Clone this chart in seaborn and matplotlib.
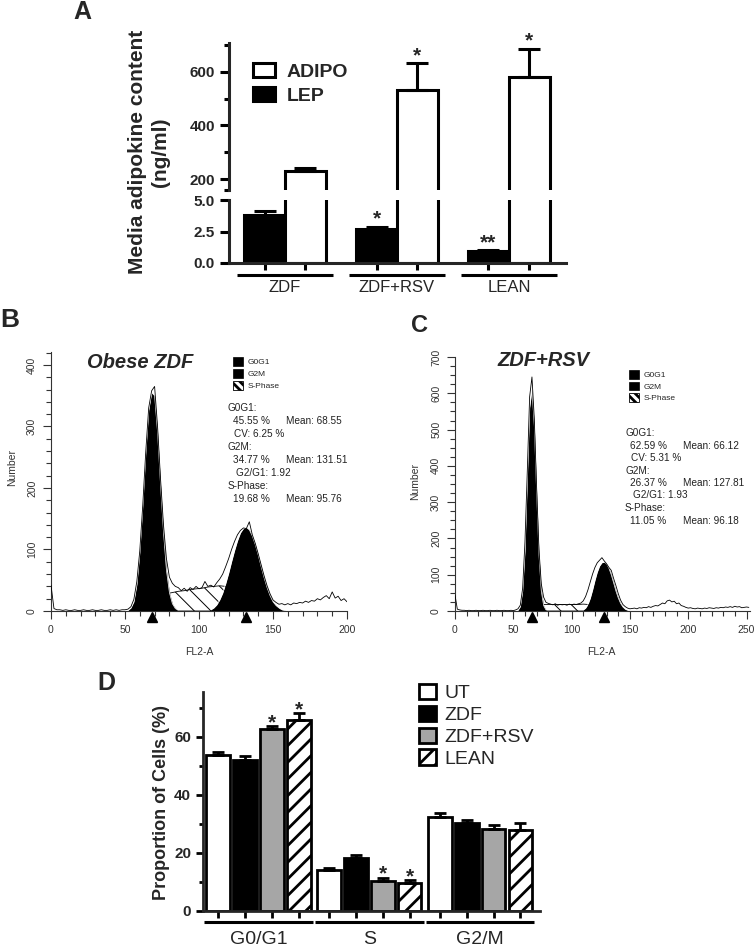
import numpy as np
import pandas as pd
import matplotlib
matplotlib.use('Agg')
import matplotlib.pyplot as plt
from matplotlib.patches import Patch
from matplotlib.ticker import MultipleLocator, FixedLocator, FormatStrFormatter
import seaborn as sns

# ============================================================
# Data
# ============================================================
# --- Panel A: media adipokine content ---
A_GROUPS = ['ZDF', 'ZDF+RSV', 'LEAN']
A_HORMONES = ['LEP', 'ADIPO']
A_LEP = [3.8, 2.67, 0.95]
A_LEP_SEM = [0.3, 0.22, 0.08]
A_ADIPO = [230, 530, 581]
A_ADIPO_SEM = [12, 102, 105]
A_LEP_STARS = ['', '*', '**']
A_ADIPO_STARS = ['', '*', '*']

# --- Panel B: cell cycle histogram, obese ZDF (channels step 2) ---
B_CH = list(range(0, 201, 2))
B_RAW = [42, 4, 2, 2, 1, 2, 1, 1, 2, 1,
         1, 2, 1, 1, 2, 1, 1, 2, 1, 1,
         2, 1, 2, 1, 2, 2, 3, 7, 19, 48,
         98, 172, 258, 330, 358, 365, 300, 215, 140, 85,
         55, 45, 40, 38, 33, 37, 32, 38, 35, 40,
         36, 38, 48, 40, 42, 39, 46, 52, 60, 72,
         85, 100, 113, 124, 131, 135, 134, 145, 124, 110,
         93, 75, 57, 41, 28, 18, 14, 11, 12, 10,
         12, 10, 13, 12, 14, 13, 16, 14, 17, 16,
         20, 18, 22, 25, 20, 31, 21, 24, 17, 20,
         15]
B_G1_CH = list(range(52, 87, 2))
B_G1 = [1, 5, 15, 43, 95, 170, 255, 326, 355, 350, 290, 205, 128, 66, 30, 12, 4, 1]
B_G2_CH = list(range(108, 159, 2))
B_G2 = [2, 5, 10, 18, 29, 44, 61, 80, 98, 114, 127, 134, 136, 132, 122, 108, 91,
        72, 54, 38, 25, 15, 9, 5, 2, 1]
B_S_CH = list(range(70, 139, 4))
B_S = [18, 24, 28, 30, 32, 33, 35, 36, 37, 39, 40, 41, 40, 38, 30, 20, 10, 3]
B_MEANS = [68.55, 131.51]
B_STATS = [('G0G1:', ''), ('45.55 %', 'Mean: 68.55'), ('CV: 6.25 %', ''),
           ('G2M:', ''), ('34.77 %', 'Mean: 131.51'), ('G2/G1: 1.92', ''),
           ('S-Phase:', ''), ('19.68 %', 'Mean: 95.76')]

# --- Panel C: cell cycle histogram, ZDF+RSV ---
C_CH = list(range(0, 253, 2))
C_RAW = [44, 5, 3, 2, 2, 1, 2, 1, 1, 2,
         1, 1, 2, 1, 1, 2, 1, 1, 2, 1,
         1, 2, 1, 1, 2, 1, 3, 6, 16, 62,
         190, 385, 590, 645, 530, 340, 170, 75, 38, 24,
         21, 19, 17, 20, 16, 18, 17, 18, 16, 19,
         17, 19, 18, 20, 22, 28, 40, 58, 80, 102,
         120, 133, 140, 147, 138, 130, 120, 112, 90, 70,
         48, 30, 18, 12, 8, 6, 7, 8, 6, 9,
         8, 10, 9, 12, 10, 13, 15, 14, 18, 22,
         20, 28, 30, 25, 27, 20, 22, 15, 13, 10,
         8, 9, 7, 6, 8, 7, 6, 8, 7, 9,
         8, 7, 9, 8, 10, 9, 11, 10, 12, 10,
         13, 11, 12, 9, 10, 11, 10]
C_G1_CH = list(range(54, 79, 2))
C_G1 = [2, 12, 55, 165, 360, 560, 610, 510, 325, 155, 55, 15, 3]
C_G2_CH = list(range(110, 149, 2))
C_G2 = [3, 8, 18, 35, 58, 84, 107, 124, 133, 135, 130, 118, 100, 78, 55, 36, 21, 11, 5, 2]
C_S_CH = list(range(66, 131, 4))
C_S = [10, 14, 17, 18, 18, 18, 18, 18, 18, 18, 18, 19, 18, 14, 8, 3, 0]
C_MEANS = [66.12, 127.81]
C_STATS = [('G0G1:', ''), ('62.59 %', 'Mean: 66.12'), ('CV: 5.31 %', ''),
           ('G2M:', ''), ('26.37 %', 'Mean: 127.81'), ('G2/G1: 1.93', ''),
           ('S-Phase:', ''), ('11.05 %', 'Mean: 96.18')]

# --- Panel D: proportion of cells per phase ---
D_PHASES = ['G0/G1', 'S', 'G2/M']
D_GROUPS = ['UT', 'ZDF', 'ZDF+RSV', 'LEAN']
D_UT = [53.9, 14.1, 32.5]
D_UT_SEM = [0.9, 0.6, 1.3]
D_ZDF = [52.0, 18.1, 30.5]
D_ZDF_SEM = [1.3, 1.2, 1.0]
D_RSV = [62.6, 10.3, 28.2]
D_RSV_SEM = [1.1, 1.2, 1.4]
D_LEAN = [66.0, 9.5, 27.9]
D_LEAN_SEM = [2.3, 1.2, 2.6]
D_STARS = {'ZDF+RSV': ['*', '*', ''], 'LEAN': ['*', '*', '']}

# ============================================================
# Style
# ============================================================
sns.set_style('ticks')
plt.rcParams['font.family'] = ['Liberation Sans', 'DejaVu Sans']
plt.rcParams['hatch.linewidth'] = 2.0

W, H = 756, 948
fig = plt.figure(figsize=(W / 100, H / 100), dpi=100)


def axes_px(l, t, r, b):
    return fig.add_axes([l / W, 1 - b / H, (r - l) / W, (b - t) / H])


def text_px(x, y, s, **kw):
    return fig.text(x / W, 1 - y / H, s, **kw)


def set_hatch_lw(artist, lw):
    if hasattr(artist, 'set_hatch_linewidth'):
        artist.set_hatch_linewidth(lw)


# ============================================================
# Panel A - broken axis bar chart
# ============================================================
dfA = pd.DataFrame({
    'group': A_GROUPS * 2,
    'hormone': ['LEP'] * 3 + ['ADIPO'] * 3,
    'value': A_LEP + A_ADIPO,
    'sem': A_LEP_SEM + A_ADIPO_SEM,
    'star': A_LEP_STARS + A_ADIPO_STARS,
})
LW_A = 2.2
axA_top = axes_px(229, 43, 566, 190)
axA_bot = axes_px(229, 200, 566, 263)
centersA = []
for ax in (axA_top, axA_bot):
    sns.barplot(data=dfA, x='group', y='value', hue='hormone', hue_order=A_HORMONES,
                palette={'LEP': 'black', 'ADIPO': 'white'}, saturation=1,
                edgecolor='black', linewidth=LW_A, width=0.73, gap=0,
                errorbar=None, legend=False, ax=ax)
    centersA = []
    for cont, hormone in zip(ax.containers, A_HORMONES):
        sub = dfA[dfA['hormone'] == hormone]
        for bar, (_, row) in zip(cont, sub.iterrows()):
            xc = bar.get_x() + bar.get_width() / 2
            centersA.append(xc)
            top = row['value'] + row['sem']
            ax.errorbar(xc, row['value'], yerr=[[0], [row['sem']]], fmt='none',
                        ecolor='black', elinewidth=LW_A, capsize=8, capthick=LW_A, zorder=3)
            if row['star']:
                ax.annotate(row['star'], (xc, top), xytext=(0, 1.5), textcoords='offset points',
                            ha='center', va='baseline', fontsize=15, fontweight='bold')
    ax.set_xlim(-0.5, 2.51)
    ax.set_xlabel('')
    ax.set_ylabel('')
    for side in ('top', 'right'):
        ax.spines[side].set_visible(False)
    ax.spines['left'].set_linewidth(LW_A)
    ax.spines['bottom'].set_linewidth(LW_A)
    ax.tick_params(which='both', width=LW_A, color='black', labelsize=11)
    ax.tick_params(which='major', length=6.5)
    ax.tick_params(which='minor', length=3.5)

axA_top.set_ylim(159, 707)
axA_top.spines['bottom'].set_visible(False)
axA_top.yaxis.set_major_locator(FixedLocator([200, 400, 600]))
axA_top.yaxis.set_minor_locator(FixedLocator([159, 300, 500, 700]))
axA_top.tick_params(axis='x', bottom=False, labelbottom=False)
for lab in axA_top.get_yticklabels():
    lab.set_fontweight('bold')

axA_bot.set_ylim(0, 5.0)
axA_bot.yaxis.set_major_locator(FixedLocator([0, 2.5, 5.0]))
axA_bot.yaxis.set_major_formatter(FormatStrFormatter('%.1f'))
axA_bot.set_xticks(sorted(centersA))
axA_bot.set_xticklabels([''] * len(centersA))
axA_bot.tick_params(axis='x', length=5)
for lab in axA_bot.get_yticklabels():
    lab.set_fontweight('bold')

transA = axA_bot.get_xaxis_transform()
for i, g in enumerate(A_GROUPS):
    axA_bot.plot([i - 0.43, i + 0.43], [-12 / 63] * 2, transform=transA, color='black',
                 lw=2.2, clip_on=False, solid_capstyle='butt')
    axA_bot.text(i, -25 / 63, g, transform=transA, ha='center', va='center', fontsize=12)

handlesA = [Patch(facecolor='white', edgecolor='black', lw=LW_A, label='ADIPO'),
            Patch(facecolor='black', edgecolor='black', lw=LW_A, label='LEP')]
axA_top.legend(handles=handlesA, loc='upper left', bbox_to_anchor=(253 / W, 1 - 63 / H),
               bbox_transform=fig.transFigure, frameon=False, borderpad=0, borderaxespad=0,
               handlelength=1.13, handleheight=0.77, handletextpad=0.6, labelspacing=0.3,
               prop={'weight': 'bold', 'size': 14})

text_px(149, 152, 'Media adipokine content\n(ng/ml)', rotation=90, ha='center', va='center',
        fontsize=15, fontweight='bold', linespacing=1.25, multialignment='center')


# ============================================================
# Panels B and C - flow cytometry histograms
# ============================================================
def cycle_panel(ax, ch, raw, g1_ch, g1, g2_ch, g2, s_ch, s, means, xmax, ymax, yminor):
    sfill = ax.fill_between(s_ch, s, 0, facecolor='white', edgecolor='black',
                            hatch='\\\\', linewidth=0.6, zorder=1)
    set_hatch_lw(sfill, 0.7)
    ax.fill_between(g1_ch, g1, 0, color='black', lw=0, zorder=2)
    ax.fill_between(g2_ch, g2, 0, color='black', lw=0, zorder=2)
    ax.plot(g1_ch, g1, color='white', lw=0.5, zorder=2.5)
    ax.plot(g2_ch, g2, color='white', lw=0.5, zorder=2.5)
    sns.lineplot(x=ch, y=raw, ax=ax, color='black', linewidth=0.6, estimator=None, zorder=3)
    ax.plot(means, [-0.023] * len(means), transform=ax.get_xaxis_transform(), ls='none',
            marker='^', ms=7, color='black', clip_on=False)
    ax.set_xlim(0, xmax)
    ax.set_ylim(0, ymax)
    ax.xaxis.set_major_locator(MultipleLocator(50))
    ax.xaxis.set_minor_locator(MultipleLocator(10))
    ax.yaxis.set_major_locator(MultipleLocator(100))
    ax.yaxis.set_minor_locator(MultipleLocator(yminor))
    for side in ('top', 'right'):
        ax.spines[side].set_visible(False)
    for side in ('left', 'bottom'):
        ax.spines[side].set_linewidth(0.8)
        ax.spines[side].set_color('#333333')
    ax.tick_params(which='both', direction='out', width=0.8, colors='#333333', labelsize=7.5)
    ax.tick_params(which='major', length=6, pad=4)
    ax.tick_params(which='minor', length=3.5)
    ax.tick_params(axis='y', labelrotation=90)
    for lab in ax.get_yticklabels():
        lab.set_va('center')
    ax.set_xlabel('FL2-A', fontsize=7.5, color='#333333')
    ax.set_ylabel('Number', fontsize=7.5, color='#333333')
    handles = [Patch(facecolor='black', edgecolor='black', lw=0.5, label='G0G1'),
               Patch(facecolor='black', edgecolor='black', lw=0.5, label='G2M'),
               Patch(facecolor='white', edgecolor='black', lw=0.6, hatch='\\\\\\\\', label='S-Phase')]
    for hp in handles:
        set_hatch_lw(hp, 0.6)
    return handles


def stats_text(x0, y0, dy, x_mean, lines):
    indents = [0, 5, 6, 0, 5, 8, 0, 5]
    for i, (left, right) in enumerate(lines):
        y = y0 + dy * i
        text_px(x0 + indents[i], y, left, fontsize=7.2, color='#222222', va='center')
        if right:
            text_px(x_mean, y, right, fontsize=7.2, color='#222222', va='center')


axB = axes_px(51, 352, 347, 611)
hB = cycle_panel(axB, B_CH, B_RAW, B_G1_CH, B_G1, B_G2_CH, B_G2, B_S_CH, B_S, B_MEANS,
                 200, 421, 20)
text_px(140, 362, 'Obese ZDF', fontsize=14.5, fontweight='bold', fontstyle='italic',
        ha='center', va='center')
axB.yaxis.set_label_coords(-34 / 296, (611 - 468) / 259)
axB.xaxis.set_label_coords(0.5, -36 / 259)
axB.legend(handles=hB, loc='upper left', bbox_to_anchor=(233 / W, 1 - 357 / H),
           bbox_transform=fig.transFigure, frameon=False, borderpad=0, borderaxespad=0,
           handlelength=1.2, handleheight=1.2, handletextpad=0.5, labelspacing=0.35,
           fontsize=6)
stats_text(228, 408, 13, 286, B_STATS)

axC = axes_px(455, 357, 750, 611)
hC = cycle_panel(axC, C_CH, C_RAW, C_G1_CH, C_G1, C_G2_CH, C_G2, C_S_CH, C_S, C_MEANS,
                 253, 700, 25)
text_px(543, 360, 'ZDF+RSV', fontsize=14.5, fontweight='bold', fontstyle='italic',
        ha='center', va='center')
axC.yaxis.set_label_coords(-35 / 295, (611 - 481) / 254)
axC.xaxis.set_label_coords(0.495, -36 / 254)
axC.legend(handles=hC, loc='upper left', bbox_to_anchor=(629 / W, 1 - 370 / H),
           bbox_transform=fig.transFigure, frameon=False, borderpad=0, borderaxespad=0,
           handlelength=1.2, handleheight=1.2, handletextpad=0.5, labelspacing=0.3,
           fontsize=6)
stats_text(625, 433, 12.5, 683, C_STATS)

# ============================================================
# Panel D - proportion of cells bar chart
# ============================================================
dfD = pd.DataFrame({
    'phase': D_PHASES * 4,
    'group': [g for g in D_GROUPS for _ in D_PHASES],
    'value': D_UT + D_ZDF + D_RSV + D_LEAN,
    'sem': D_UT_SEM + D_ZDF_SEM + D_RSV_SEM + D_LEAN_SEM,
})
LW_D = 2.0
axD = axes_px(203, 692, 540, 911)
D_COLORS = {'UT': 'white', 'ZDF': 'black', 'ZDF+RSV': '#a6a6a6', 'LEAN': 'white'}
sns.barplot(data=dfD, x='phase', y='value', hue='group', hue_order=D_GROUPS,
            palette=D_COLORS, saturation=1, edgecolor='black', linewidth=LW_D,
            width=0.97, gap=0.12, errorbar=None, legend=False, ax=axD)
centersD = []
for cont, grp in zip(axD.containers, D_GROUPS):
    sub = dfD[dfD['group'] == grp]
    stars = D_STARS.get(grp, [''] * 3)
    for j, (bar, (_, row)) in enumerate(zip(cont, sub.iterrows())):
        if grp == 'LEAN':
            bar.set_hatch('//')
            set_hatch_lw(bar, 2.0)
        xc = bar.get_x() + bar.get_width() / 2
        centersD.append(xc)
        top = row['value'] + row['sem']
        axD.errorbar(xc, row['value'], yerr=[[0], [row['sem']]], fmt='none', ecolor='black',
                     elinewidth=LW_D, capsize=4.5, capthick=LW_D, zorder=3)
        if stars[j]:
            axD.annotate(stars[j], (xc, top), xytext=(0, -1.5), textcoords='offset points',
                         ha='center', va='baseline', fontsize=15, fontweight='bold')

axD.set_xlim(-0.5, 2.54)
axD.set_ylim(0, 75.5)
axD.set_xlabel('')
axD.set_ylabel('')
axD.set_xticks(sorted(centersD))
axD.set_xticklabels([''] * len(centersD))
axD.yaxis.set_major_locator(MultipleLocator(20))
axD.yaxis.set_minor_locator(MultipleLocator(10))
for side in ('top', 'right'):
    axD.spines[side].set_visible(False)
for side in ('left', 'bottom'):
    axD.spines[side].set_linewidth(LW_D)
axD.tick_params(which='both', width=LW_D, color='black', labelsize=11)
axD.tick_params(which='major', length=5)
axD.tick_params(which='minor', length=3)
axD.tick_params(axis='x', length=5)
for lab in axD.get_yticklabels():
    lab.set_fontweight('bold')

transD = axD.get_xaxis_transform()
for i, p in enumerate(D_PHASES):
    axD.plot([i - 0.49, i + 0.49], [-11 / 219] * 2, transform=transD, color='black',
             lw=2.2, clip_on=False, solid_capstyle='butt')
    axD.text(i, -29 / 219, p, transform=transD, ha='center', va='center', fontsize=14)

handlesD = []
for grp in D_GROUPS:
    hp = Patch(facecolor=D_COLORS[grp], edgecolor='black', lw=LW_D, label=grp,
               hatch='//' if grp == 'LEAN' else None)
    set_hatch_lw(hp, 2.0)
    handlesD.append(hp)
axD.legend(handles=handlesD, loc='upper left', bbox_to_anchor=(419 / W, 1 - 684 / H),
           bbox_transform=fig.transFigure, frameon=False, borderpad=0, borderaxespad=0,
           handlelength=0.85, handleheight=0.82, handletextpad=0.45, labelspacing=0.18,
           fontsize=14)

text_px(162, 803, 'Proportion of Cells (%)', rotation=90, ha='center', va='center',
        fontsize=13, fontweight='bold')

# ============================================================
# Panel letters
# ============================================================
text_px(73, 12, 'A', fontsize=18, fontweight='bold', ha='left', va='center')
text_px(0, 320, 'B', fontsize=19, fontweight='bold', ha='left', va='center')
text_px(411, 325, 'C', fontsize=17, fontweight='bold', ha='left', va='center')
text_px(97, 683, 'D', fontsize=18, fontweight='bold', ha='left', va='center')

fig.savefig('out.png', dpi=100)
